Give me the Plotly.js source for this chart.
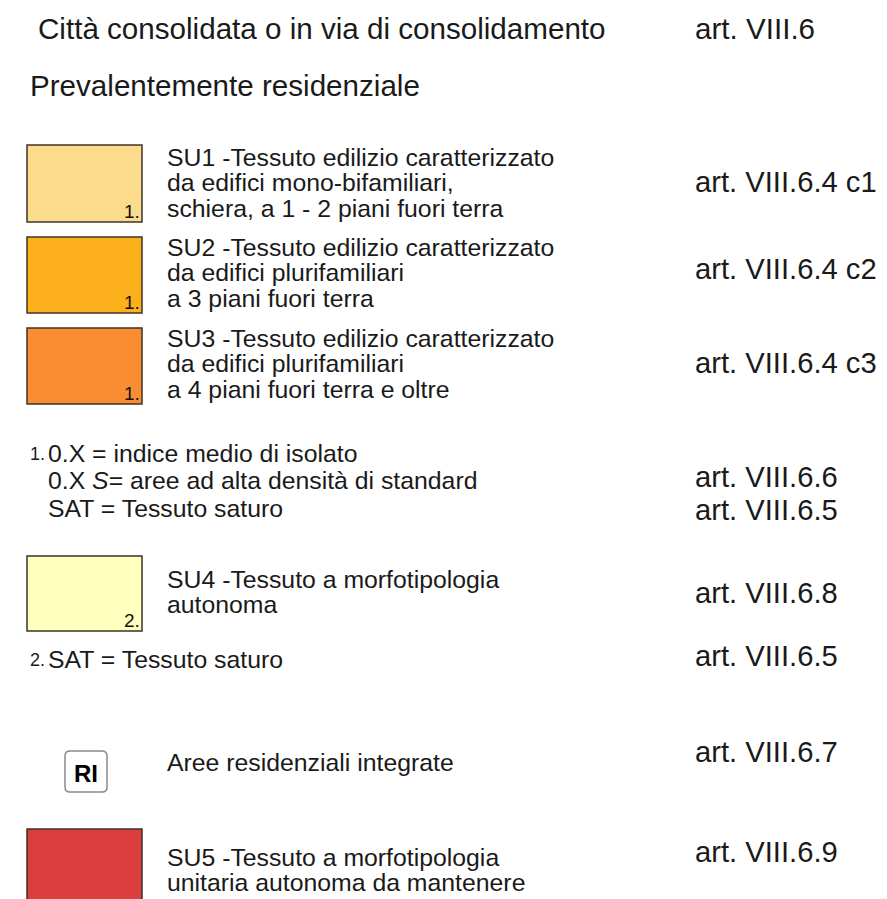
<!DOCTYPE html>
<html>
<head>
<meta charset="utf-8">
<script src="https://cdn.plot.ly/plotly-3.0.1.min.js"></script>
<style>html,body{margin:0;padding:0;background:#fff;}#chart{width:887px;height:899px;}</style>
</head>
<body>
<div id="chart"></div>
<script>
// ---- content ----
const headerTitle = "Città consolidata o in via di consolidamento";
const headerArt = "art. VIII.6";
const subTitle = "Prevalentemente residenziale";

const zoneCodes = ["SU1", "SU2", "SU3", "SU4", "SU5"];
const zoneColors = ["#FDDB8C", "#FCB01C", "#FA8C32", "#FFFFBE", "#DA3E3E"];
const zoneMarks = ["1.", "1.", "1.", "2.", ""];
const zoneLines = [
  ["SU1 -Tessuto edilizio caratterizzato", "da edifici mono-bifamiliari,", "schiera, a 1 - 2 piani fuori terra"],
  ["SU2 -Tessuto edilizio caratterizzato", "da edifici plurifamiliari", "a 3 piani fuori terra"],
  ["SU3 -Tessuto edilizio caratterizzato", "da edifici plurifamiliari", "a 4 piani fuori terra e oltre"],
  ["SU4 -Tessuto a morfotipologia", "autonoma"],
  ["SU5 -Tessuto a morfotipologia", "unitaria autonoma da mantenere"]
];
const zoneArts = ["art. VIII.6.4 c1", "art. VIII.6.4 c2", "art. VIII.6.4 c3", "art. VIII.6.8", "art. VIII.6.9"];

const note1Lines = ["0.X = indice medio di isolato", "0.X <i>S</i>= aree ad alta densità di standard", "SAT = Tessuto saturo"];
const note1Arts = ["art. VIII.6.6", "art. VIII.6.5"];
const note2Line = "SAT = Tessuto saturo";
const note2Art = "art. VIII.6.5";

const riCode = "RI";
const riText = "Aree residenziali integrate";
const riArt = "art. VIII.6.7";

// ---- layout (positions in page pixels) ----
const FONT = "Liberation Sans, Arial, sans-serif";
const boxTop = [145, 237, 328, 556, 829];
const boxBottom = [222, 313, 404, 631, 905];
const lineY0 = [157, 247, 338, 579, 857];
const artY = [182, 269, 363, 593, 852];
const LINE = 25.7;
const BOX_X0 = 27, BOX_X1 = 142, TEXT_X = 167, ART_X = 695;
const F_BODY = 24.8, F_HEAD = 29.6, F_ART = 29.2;

const shapes = [];
const annotations = [];
function txt(x, y, text, size, opts) {
  annotations.push(Object.assign({
    x: x, y: y, xref: "x", yref: "y", text: text, showarrow: false,
    xanchor: "left", yanchor: "middle",
    font: {family: FONT, size: size, color: "#1a1a1a"}
  }, opts || {}));
}

txt(36, 28, headerTitle, F_HEAD);
txt(ART_X - 2, 28, headerArt, F_HEAD);
txt(28, 85, subTitle, F_HEAD);

zoneCodes.forEach((code, i) => {
  shapes.push({type: "rect", xref: "x", yref: "y", x0: BOX_X0, x1: BOX_X1, y0: boxTop[i], y1: boxBottom[i],
    fillcolor: zoneColors[i], line: {color: "#3d3328", width: 1.5}});
  if (zoneMarks[i]) {
    txt(BOX_X1, boxBottom[i] - 11, zoneMarks[i], 19, {xanchor: "right", font: {family: FONT, size: 19, color: "#111"}});
  }
  zoneLines[i].forEach((ln, j) => txt(TEXT_X - 2, lineY0[i] + j * LINE, ln, F_BODY));
  txt(ART_X - 2, artY[i], zoneArts[i], F_ART);
});

// note 1
txt(28, 454, "1.", 18);
note1Lines.forEach((ln, j) => txt(46, 453 + j * 27.5, ln, F_BODY));
txt(ART_X - 2, 477, note1Arts[0], F_ART);
txt(ART_X - 2, 510, note1Arts[1], F_ART);

// note 2
txt(28, 660, "2.", 18);
txt(46, 659, note2Line, F_BODY);
txt(ART_X - 2, 656, note2Art, F_ART);

// RI symbol
const rx0 = 65, rx1 = 107, ry0 = 751, ry1 = 792, r = 5;
shapes.push({type: "path", xref: "x", yref: "y",
  path: `M ${rx0+r},${ry0} L ${rx1-r},${ry0} Q ${rx1},${ry0} ${rx1},${ry0+r} L ${rx1},${ry1-r} Q ${rx1},${ry1} ${rx1-r},${ry1} L ${rx0+r},${ry1} Q ${rx0},${ry1} ${rx0},${ry1-r} L ${rx0},${ry0+r} Q ${rx0},${ry0} ${rx0+r},${ry0} Z`,
  fillcolor: "#ffffff", line: {color: "#8a8a8a", width: 1.5}});
txt((rx0 + rx1) / 2, 773, "<b>" + riCode + "</b>", 24, {xanchor: "center", font: {family: FONT, size: 24, color: "#000"}});
txt(TEXT_X - 2, 762, riText, F_BODY);
txt(ART_X - 2, 752, riArt, F_ART);

const data = [{x: [0, 887], y: [0, 899], mode: "markers", marker: {opacity: 0}, hoverinfo: "skip", showlegend: false}];

Plotly.newPlot("chart", data, {
  width: 887, height: 899,
  margin: {l: 0, r: 0, t: 0, b: 0},
  paper_bgcolor: "#ffffff", plot_bgcolor: "#ffffff",
  xaxis: {range: [0, 887], visible: false, fixedrange: true},
  yaxis: {range: [899, 0], visible: false, fixedrange: true},
  shapes: shapes, annotations: annotations, showlegend: false
}, {displayModeBar: false, staticPlot: true});
</script>
</body>
</html>
